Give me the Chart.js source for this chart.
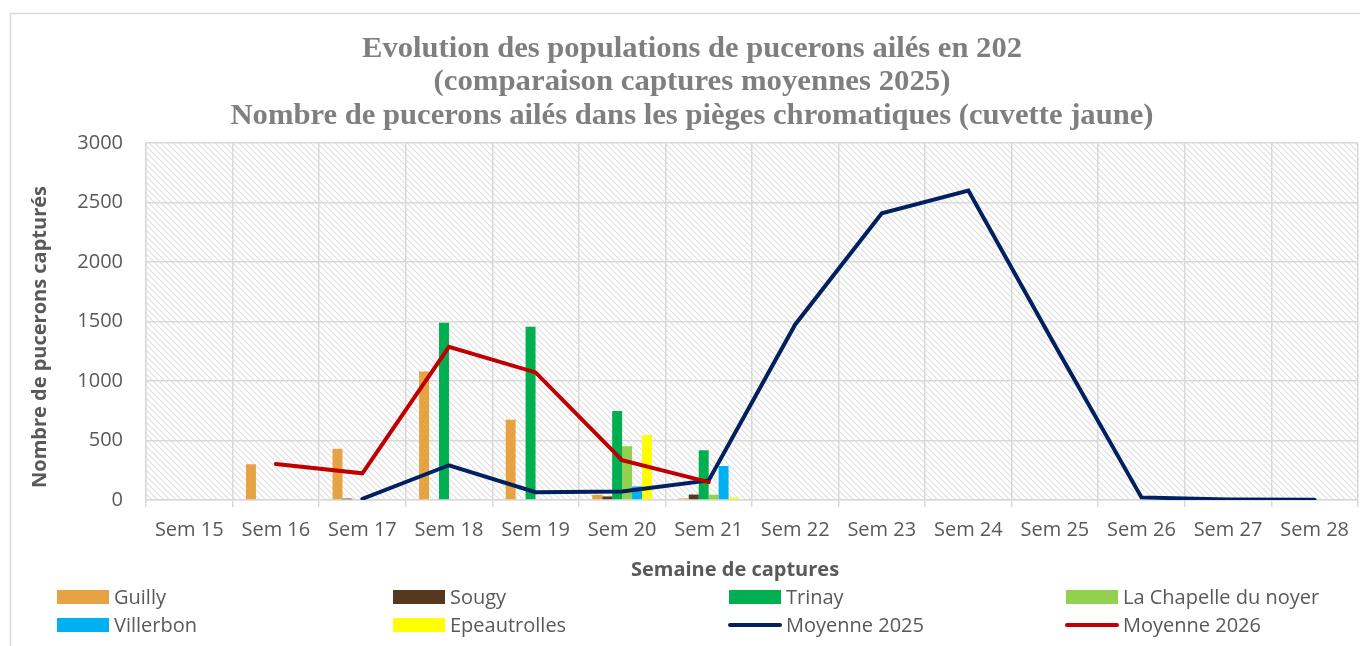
<!DOCTYPE html>
<html><head><meta charset="utf-8">
<script src="https://cdn.jsdelivr.net/npm/chart.js@4.4.1/dist/chart.umd.min.js"></script>
<style>html,body{margin:0;padding:0;background:#fff;overflow:hidden}#wrap{width:1360px;height:646px;position:relative}</style>
</head><body><div id="wrap"><canvas id="c"></canvas></div>
<script>
const categories = ['Sem 15','Sem 16','Sem 17','Sem 18','Sem 19','Sem 20','Sem 21','Sem 22','Sem 23','Sem 24','Sem 25','Sem 26','Sem 27','Sem 28'];
const guilly       = [null, 300, 430, 1080, 675, 44, 13, null, null, null, null, null, null, null];
const sougy        = [null, 0, 12, 0, 0, 30, 46, null, null, null, null, null, null, null];
const trinay       = [null, 0, 0, 1490, 1455, 748, 418, null, null, null, null, null, null, null];
const laChapelle   = [null, 0, 0, 0, 0, 452, 44, null, null, null, null, null, null, null];
const villerbon    = [null, 0, 0, 0, 0, 114, 286, null, null, null, null, null, null, null];
const epeautrolles = [null, 0, 0, 0, 0, 545, 21, null, null, null, null, null, null, null];
const moyenne2025  = [null, null, 10, 292, 65, 72, 165, 1475, 2410, 2600, 1300, 22, 5, 3];
const moyenne2026  = [null, 303, 224, 1287, 1072, 334, 150, null, null, null, null, null, null, null];
const yTicks = [0, 500, 1000, 1500, 2000, 2500, 3000];
const titleLines = ['Evolution des populations de pucerons ailés en 202', '(comparaison captures moyennes 2025)', 'Nombre de pucerons ailés dans les pièges chromatiques (cuvette jaune)'];
const xTitle = 'Semaine de captures';
const yTitle = 'Nombre de pucerons capturés';

const GRID = '#d9d9d9';
const TXT = '#595959';
const SANS = '"Open Sans", "Liberation Sans", sans-serif';

function makePattern() {
  const t = document.createElement('canvas');
  t.width = 6; t.height = 6;
  const g = t.getContext('2d');
  g.fillStyle = '#ffffff'; g.fillRect(0, 0, 6, 6);
  g.strokeStyle = '#dedede'; g.lineWidth = 1.1;
  g.beginPath();
  g.moveTo(-1, -1); g.lineTo(7, 7);
  g.moveTo(-1, 5); g.lineTo(1, 7);
  g.moveTo(5, -1); g.lineTo(7, 1);
  g.stroke();
  return t;
}

const bgPlugin = {
  id: 'bg',
  beforeDraw(chart) {
    const {ctx, chartArea: a} = chart;
    ctx.save();
    ctx.fillStyle = '#fff';
    ctx.fillRect(0, 0, chart.width, chart.height);
    ctx.strokeStyle = GRID; ctx.lineWidth = 1.5;
    ctx.strokeRect(10.5, 13.5, chart.width + 20, chart.height + 20);
    ctx.fillStyle = ctx.createPattern(makePattern(), 'repeat');
    ctx.fillRect(a.left, a.top, a.right - a.left, a.bottom - a.top);
    // title
    const targets = [660, 517, 923];
    const bases = [57, 90, 124];
    ctx.fillStyle = '#7f7f7f';
    ctx.font = 'bold 29px "Liberation Serif", serif';
    ctx.textAlign = 'center'; ctx.textBaseline = 'alphabetic';
    titleLines.forEach((s, i) => {
      const w = ctx.measureText(s).width;
      const k = targets[i] / w;
      ctx.save();
      ctx.translate(692, bases[i]);
      ctx.scale(k, 1);
      ctx.fillText(s, 0, 0);
      ctx.restore();
    });
    ctx.restore();
  },
  afterDraw(chart) {
    const {ctx} = chart;
    ctx.save();
    // axis titles
    ctx.fillStyle = TXT;
    ctx.font = 'bold 20px ' + SANS;
    ctx.textAlign = 'center'; ctx.textBaseline = 'middle';
    ctx.fillText(xTitle, 735, 570);
    ctx.save();
    ctx.translate(40, 337);
    ctx.rotate(-Math.PI / 2);
    ctx.fillText(yTitle, 0, 0);
    ctx.restore();
    // legend
    const cols = [57, 393, 729, 1066];
    const rows = [597, 625];
    ctx.font = '20px ' + SANS;
    ctx.textBaseline = 'middle'; ctx.textAlign = 'left';
    chart.data.datasets.forEach((ds, i) => {
      const cx = cols[i % 4], cy = rows[Math.floor(i / 4)];
      if (ds.type === 'line') {
        ctx.strokeStyle = ds.borderColor; ctx.lineWidth = 4; ctx.lineCap = 'round';
        ctx.beginPath(); ctx.moveTo(cx + 1, cy); ctx.lineTo(cx + 51, cy); ctx.stroke();
      } else {
        ctx.fillStyle = ds.backgroundColor;
        ctx.fillRect(cx, cy - 7, 52, 14);
      }
      ctx.fillStyle = TXT;
      ctx.fillText(ds.label, cx + 57, cy + 1);
    });
    ctx.restore();
  }
};

const bar = (label, data, color) => ({type: 'bar', label, data, backgroundColor: color, borderWidth: 0, order: 1, barPercentage: 1, categoryPercentage: 0.69});
const line = (label, data, color, order) => ({type: 'line', label, data, borderColor: color, backgroundColor: color, borderWidth: 4, pointRadius: 0, tension: 0, spanGaps: false, order, borderCapStyle: 'round', borderJoinStyle: 'miter'});

new Chart(document.getElementById('c'), {
  data: {
    labels: categories,
    datasets: [
      bar('Guilly', guilly, '#E6A243'),
      bar('Sougy', sougy, '#56381F'),
      bar('Trinay', trinay, '#00B050'),
      bar('La Chapelle du noyer', laChapelle, '#92D050'),
      bar('Villerbon', villerbon, '#00B0F0'),
      bar('Epeautrolles', epeautrolles, '#FFFF00'),
      line('Moyenne 2025', moyenne2025, '#002060', 0),
      line('Moyenne 2026', moyenne2026, '#C00000', -1)
    ]
  },
  options: {
    responsive: true, maintainAspectRatio: false, animation: false,
    layout: {padding: {left: 10, right: 0, top: 143, bottom: 61}},
    plugins: {legend: {display: false}, title: {display: false}, tooltip: {enabled: false}},
    scales: {
      x: {
        type: 'category', offset: true,
        grid: {offset: true, color: GRID, lineWidth: 1.5, tickLength: 7, drawTicks: true},
        border: {color: GRID, width: 1.5},
        ticks: {color: TXT, font: {family: SANS, size: 20}, padding: 11, maxRotation: 0, autoSkip: false},
        title: {display: false},
        afterFit(s) { s.height = 85; }
      },
      y: {
        min: 0, max: 3000,
        afterBuildTicks(s) { s.ticks = yTicks.map(v => ({value: v})); },
        grid: {color: GRID, lineWidth: 1.5, drawTicks: false},
        border: {color: GRID, width: 1.5},
        ticks: {color: TXT, font: {family: SANS, size: 20}, padding: 23, callback: v => String(v)},
        title: {display: false},
        afterFit(s) { s.width = 136; }
      }
    }
  },
  plugins: [bgPlugin]
});
</script></body></html>
